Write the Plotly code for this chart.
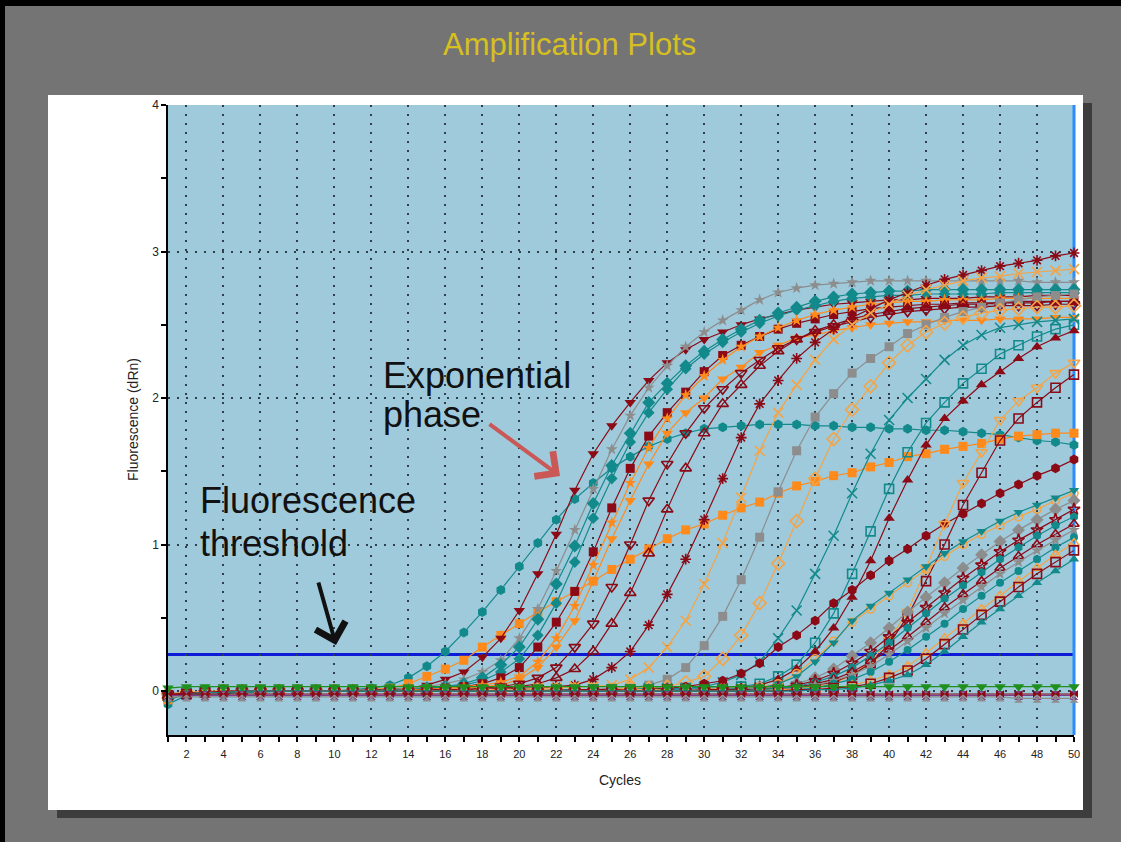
import plotly.graph_objects as go

# ---------------------------------------------------------------
# Amplification plot data: fluorescence (dRn) per cycle, 50 cycles
# ---------------------------------------------------------------
cycles = list(range(1, 51))
threshold = 0.25
x_ticks = list(range(2, 51, 2))
y_ticks = [0, 1, 2, 3, 4]

teal_hex_a = [
    -0.09, -0.03, -0.02, -0.02, -0.01, -0.01, 0.00, 0.00, 0.00, 0.00,
    0.01, 0.02, 0.04, 0.09, 0.17, 0.27, 0.40, 0.54, 0.69, 0.85,
    1.01, 1.17, 1.31, 1.42, 1.52, 1.60, 1.67, 1.72, 1.76, 1.79,
    1.80, 1.81, 1.82, 1.82, 1.82, 1.81, 1.81, 1.80, 1.80, 1.79,
    1.79, 1.78, 1.78, 1.77, 1.76, 1.75, 1.73, 1.71, 1.70, 1.68,
]
orange_sq_a = [
    -0.06, -0.02, -0.01, -0.01, 0.00, 0.00, 0.00, 0.00, 0.00, 0.00,
    0.00, 0.01, 0.02, 0.05, 0.10, 0.15, 0.21, 0.30, 0.38, 0.46,
    0.54, 0.61, 0.68, 0.75, 0.83, 0.90, 0.97, 1.04, 1.10, 1.14,
    1.20, 1.25, 1.29, 1.35, 1.40, 1.43, 1.47, 1.49, 1.53, 1.56,
    1.60, 1.62, 1.65, 1.67, 1.69, 1.72, 1.74, 1.75, 1.76, 1.76,
]
dkred_tri_dn = [
    -0.04, -0.02, -0.01, -0.01, 0.00, 0.00, 0.00, 0.00, 0.00, 0.00,
    0.00, 0.01, 0.01, 0.02, 0.04, 0.08, 0.13, 0.23, 0.36, 0.55,
    0.80, 1.07, 1.37, 1.62, 1.81, 1.97, 2.12, 2.24, 2.33, 2.40,
    2.45, 2.50, 2.54, 2.57, 2.60, 2.62, 2.64, 2.65, 2.66, 2.67,
    2.67, 2.68, 2.68, 2.68, 2.69, 2.69, 2.69, 2.70, 2.70, 2.70,
]
gray_star_a = [
    -0.03, -0.02, -0.01, 0.00, 0.00, 0.00, 0.00, 0.00, 0.00, 0.00,
    0.00, 0.00, 0.01, 0.02, 0.03, 0.05, 0.08, 0.13, 0.21, 0.36,
    0.56, 0.82, 1.10, 1.38, 1.65, 1.88, 2.07, 2.22, 2.35, 2.45,
    2.53, 2.60, 2.67, 2.72, 2.75, 2.77, 2.78, 2.79, 2.80, 2.80,
    2.80, 2.80, 2.80, 2.80, 2.80, 2.80, 2.80, 2.79, 2.79, 2.79,
]
teal_dia_a = [
    -0.05, -0.02, -0.01, -0.01, 0.00, 0.00, 0.00, 0.00, 0.00, 0.00,
    0.00, 0.00, 0.01, 0.01, 0.02, 0.03, 0.05, 0.09, 0.18, 0.30,
    0.49, 0.73, 0.99, 1.28, 1.54, 1.76, 1.97, 2.10, 2.22, 2.32,
    2.40, 2.47, 2.53, 2.58, 2.62, 2.66, 2.69, 2.71, 2.72, 2.73,
    2.73, 2.74, 2.74, 2.74, 2.74, 2.74, 2.74, 2.74, 2.74, 2.74,
]
teal_dia_b = [
    -0.04, -0.02, -0.01, 0.00, 0.00, 0.00, 0.00, 0.00, 0.00, 0.00,
    0.00, 0.00, 0.00, 0.01, 0.02, 0.03, 0.04, 0.07, 0.13, 0.22,
    0.38, 0.60, 0.88, 1.18, 1.45, 1.70, 1.90, 2.06, 2.20, 2.30,
    2.38, 2.45, 2.51, 2.56, 2.60, 2.63, 2.66, 2.68, 2.69, 2.70,
    2.70, 2.71, 2.71, 2.71, 2.71, 2.72, 2.72, 2.72, 2.72, 2.72,
]
dkred_sq_a = [
    -0.03, -0.02, -0.01, -0.01, 0.00, 0.00, 0.00, 0.00, 0.00, 0.00,
    0.00, 0.00, 0.00, 0.01, 0.01, 0.02, 0.03, 0.05, 0.09, 0.16,
    0.30, 0.47, 0.68, 0.95, 1.25, 1.52, 1.74, 1.90, 2.04, 2.18,
    2.29, 2.36, 2.42, 2.47, 2.51, 2.54, 2.57, 2.59, 2.61, 2.62,
    2.63, 2.64, 2.64, 2.65, 2.65, 2.65, 2.66, 2.66, 2.66, 2.66,
]
orange_tri_dn = [
    -0.05, -0.02, -0.01, 0.00, 0.00, 0.00, 0.00, 0.00, 0.00, 0.00,
    0.00, 0.00, 0.00, 0.00, 0.01, 0.01, 0.02, 0.03, 0.04, 0.08,
    0.16, 0.30, 0.48, 0.75, 1.04, 1.30, 1.55, 1.76, 1.90, 2.00,
    2.13, 2.21, 2.31, 2.36, 2.41, 2.43, 2.46, 2.48, 2.50, 2.51,
    2.52, 2.52, 2.53, 2.53, 2.53, 2.54, 2.54, 2.54, 2.55, 2.55,
]
orange_star = [
    -0.04, -0.02, -0.01, 0.00, 0.00, 0.00, 0.00, 0.00, 0.00, 0.00,
    0.00, 0.00, 0.00, 0.01, 0.01, 0.02, 0.03, 0.04, 0.06, 0.10,
    0.20, 0.36, 0.58, 0.86, 1.15, 1.42, 1.66, 1.86, 2.02, 2.15,
    2.26, 2.35, 2.42, 2.48, 2.53, 2.57, 2.60, 2.62, 2.64, 2.65,
    2.66, 2.66, 2.67, 2.67, 2.67, 2.68, 2.68, 2.68, 2.68, 2.68,
]
dkred_tri_dn_open = [
    -0.03, -0.02, -0.01, 0.00, 0.00, 0.00, 0.00, 0.00, 0.00, 0.00,
    0.00, 0.00, 0.00, 0.00, 0.01, 0.01, 0.01, 0.02, 0.03, 0.05,
    0.09, 0.16, 0.30, 0.46, 0.71, 1.00, 1.30, 1.55, 1.76, 1.93,
    2.06, 2.17, 2.26, 2.34, 2.40, 2.45, 2.49, 2.52, 2.55, 2.57,
    2.59, 2.60, 2.61, 2.62, 2.62, 2.63, 2.63, 2.63, 2.64, 2.64,
]
dkred_tri_up_open = [
    -0.03, -0.02, -0.01, 0.00, 0.00, 0.00, 0.00, 0.00, 0.00, 0.00,
    0.00, 0.00, 0.00, 0.00, 0.00, 0.01, 0.01, 0.01, 0.02, 0.03,
    0.05, 0.09, 0.15, 0.27, 0.46, 0.67, 0.94, 1.24, 1.52, 1.76,
    1.96, 2.09, 2.22, 2.32, 2.40, 2.46, 2.50, 2.54, 2.57, 2.59,
    2.61, 2.62, 2.63, 2.64, 2.64, 2.65, 2.65, 2.65, 2.66, 2.66,
]
dkred_asterisk = [
    -0.02, -0.01, -0.01, 0.00, 0.00, 0.00, 0.00, 0.00, 0.00, 0.00,
    0.00, 0.00, 0.00, 0.00, 0.00, 0.00, 0.01, 0.01, 0.01, 0.02,
    0.02, 0.03, 0.04, 0.08, 0.16, 0.27, 0.45, 0.66, 0.90, 1.17,
    1.45, 1.73, 1.96, 2.12, 2.27, 2.38, 2.47, 2.55, 2.61, 2.67,
    2.72, 2.77, 2.81, 2.84, 2.87, 2.90, 2.92, 2.94, 2.97, 2.99,
]
orange_x = [
    -0.03, -0.01, -0.01, 0.00, 0.00, 0.00, 0.00, 0.00, 0.00, 0.00,
    0.00, 0.00, 0.00, 0.00, 0.00, 0.00, 0.00, 0.01, 0.01, 0.01,
    0.02, 0.02, 0.03, 0.03, 0.04, 0.08, 0.16, 0.30, 0.48, 0.73,
    1.01, 1.32, 1.64, 1.90, 2.09, 2.26, 2.40, 2.50, 2.58, 2.64,
    2.70, 2.74, 2.77, 2.80, 2.82, 2.83, 2.85, 2.86, 2.87, 2.88,
]
gray_sq = [
    -0.04, -0.02, -0.01, -0.01, 0.00, 0.00, 0.00, 0.00, 0.00, 0.00,
    0.00, 0.00, 0.00, 0.00, 0.00, 0.00, 0.00, 0.00, 0.00, 0.01,
    0.01, 0.01, 0.01, 0.01, 0.02, 0.02, 0.04, 0.08, 0.16, 0.31,
    0.51, 0.76, 1.05, 1.36, 1.64, 1.87, 2.03, 2.17, 2.27, 2.35,
    2.44, 2.50, 2.55, 2.59, 2.62, 2.65, 2.67, 2.69, 2.70, 2.71,
]
orange_dia_open = [
    -0.02, -0.01, -0.01, 0.00, 0.00, 0.00, 0.00, 0.00, 0.00, 0.00,
    0.00, 0.00, 0.00, 0.00, 0.00, 0.00, 0.00, 0.00, 0.00, 0.00,
    0.01, 0.01, 0.01, 0.01, 0.01, 0.02, 0.02, 0.03, 0.06, 0.10,
    0.22, 0.38, 0.60, 0.87, 1.16, 1.45, 1.72, 1.92, 2.08, 2.24,
    2.36, 2.45, 2.51, 2.55, 2.58, 2.60, 2.61, 2.62, 2.62, 2.63,
]
teal_x = [
    -0.03, -0.02, -0.01, 0.00, 0.00, 0.00, 0.00, 0.00, 0.00, 0.00,
    0.00, 0.00, 0.00, 0.00, 0.00, 0.00, 0.00, 0.00, 0.00, 0.00,
    0.00, 0.01, 0.01, 0.01, 0.01, 0.01, 0.02, 0.02, 0.02, 0.03,
    0.06, 0.11, 0.20, 0.36, 0.55, 0.80, 1.06, 1.35, 1.62, 1.85,
    2.00, 2.13, 2.26, 2.36, 2.43, 2.48, 2.50, 2.52, 2.53, 2.54,
]
teal_sq_open = [
    -0.03, -0.01, -0.01, 0.00, 0.00, 0.00, 0.00, 0.00, 0.00, 0.00,
    0.00, 0.00, 0.00, 0.00, 0.00, 0.00, 0.00, 0.00, 0.00, 0.00,
    0.00, 0.00, 0.00, 0.01, 0.01, 0.01, 0.01, 0.01, 0.02, 0.02,
    0.02, 0.03, 0.05, 0.10, 0.18, 0.33, 0.53, 0.80, 1.09, 1.38,
    1.63, 1.83, 1.97, 2.10, 2.20, 2.30, 2.36, 2.42, 2.47, 2.50,
]
dkred_tri_up = [
    -0.03, -0.02, -0.01, -0.01, 0.00, 0.00, 0.00, 0.00, 0.00, 0.00,
    0.00, 0.00, 0.00, 0.00, 0.00, 0.00, 0.00, 0.00, 0.00, 0.00,
    0.00, 0.00, 0.00, 0.00, 0.01, 0.01, 0.01, 0.01, 0.01, 0.01,
    0.01, 0.02, 0.04, 0.08, 0.15, 0.27, 0.43, 0.64, 0.89, 1.18,
    1.44, 1.68, 1.86, 1.98, 2.09, 2.18, 2.27, 2.35, 2.41, 2.46,
]
dkred_hex = [
    -0.03, -0.02, -0.01, 0.00, 0.00, 0.00, 0.00, 0.00, 0.00, 0.00,
    0.00, 0.00, 0.00, 0.00, 0.00, 0.00, 0.00, 0.00, 0.00, 0.00,
    0.00, 0.00, 0.01, 0.01, 0.01, 0.01, 0.01, 0.02, 0.03, 0.05,
    0.07, 0.12, 0.19, 0.30, 0.38, 0.48, 0.60, 0.69, 0.79, 0.89,
    0.97, 1.06, 1.14, 1.21, 1.28, 1.35, 1.41, 1.47, 1.52, 1.58,
]
orange_tri_dn_open = [
    -0.03, -0.01, -0.01, 0.00, 0.00, 0.00, 0.00, 0.00, 0.00, 0.00,
    0.00, 0.00, 0.00, 0.00, 0.00, 0.00, 0.00, 0.00, 0.00, 0.00,
    0.00, 0.00, 0.00, 0.00, 0.00, 0.00, 0.01, 0.01, 0.01, 0.01,
    0.01, 0.01, 0.01, 0.01, 0.02, 0.03, 0.05, 0.11, 0.20, 0.35,
    0.54, 0.84, 1.14, 1.42, 1.63, 1.85, 1.98, 2.07, 2.17, 2.24,
]
dkred_sq_open = [
    -0.03, -0.02, -0.01, 0.00, 0.00, 0.00, 0.00, 0.00, 0.00, 0.00,
    0.00, 0.00, 0.00, 0.00, 0.00, 0.00, 0.00, 0.00, 0.00, 0.00,
    0.00, 0.00, 0.00, 0.00, 0.00, 0.00, 0.00, 0.01, 0.01, 0.01,
    0.01, 0.01, 0.02, 0.02, 0.03, 0.04, 0.06, 0.11, 0.19, 0.32,
    0.51, 0.75, 1.00, 1.27, 1.49, 1.71, 1.86, 1.97, 2.07, 2.16,
]
orange_circle_open = [
    -0.02, -0.01, 0.00, 0.00, 0.00, 0.00, 0.00, 0.00, 0.00, 0.00,
    0.00, 0.00, 0.00, 0.00, 0.00, 0.00, 0.00, 0.00, 0.00, 0.00,
    0.00, 0.00, 0.00, 0.00, 0.00, 0.01, 0.01, 0.01, 0.01, 0.01,
    0.02, 0.02, 0.03, 0.05, 0.12, 0.22, 0.34, 0.47, 0.56, 0.65,
    0.74, 0.83, 0.92, 1.00, 1.07, 1.13, 1.19, 1.24, 1.30, 1.35,
]
teal_tri_dn = [
    -0.04, -0.02, -0.01, 0.00, 0.00, 0.00, 0.00, 0.00, 0.00, 0.00,
    0.00, 0.00, 0.00, 0.00, 0.00, 0.00, 0.00, 0.00, 0.00, 0.00,
    0.00, 0.00, 0.00, 0.00, 0.00, 0.00, 0.00, 0.01, 0.01, 0.01,
    0.01, 0.02, 0.02, 0.05, 0.10, 0.20, 0.33, 0.48, 0.58, 0.67,
    0.76, 0.85, 0.94, 1.02, 1.09, 1.16, 1.22, 1.27, 1.32, 1.37,
]
gray_dia = [
    -0.03, -0.02, -0.01, 0.00, 0.00, 0.00, 0.00, 0.00, 0.00, 0.00,
    0.00, 0.00, 0.00, 0.00, 0.00, 0.00, 0.00, 0.00, 0.00, 0.00,
    0.00, 0.00, 0.00, 0.00, 0.00, 0.00, 0.00, 0.00, 0.01, 0.01,
    0.01, 0.01, 0.02, 0.02, 0.05, 0.09, 0.15, 0.24, 0.33, 0.43,
    0.54, 0.64, 0.74, 0.84, 0.93, 1.02, 1.10, 1.17, 1.24, 1.30,
]
dkred_star_open = [
    -0.02, -0.02, -0.01, 0.00, 0.00, 0.00, 0.00, 0.00, 0.00, 0.00,
    0.00, 0.00, 0.00, 0.00, 0.00, 0.00, 0.00, 0.00, 0.00, 0.00,
    0.00, 0.00, 0.00, 0.00, 0.00, 0.00, 0.00, 0.00, 0.00, 0.01,
    0.01, 0.01, 0.01, 0.02, 0.04, 0.07, 0.12, 0.19, 0.27, 0.37,
    0.47, 0.57, 0.67, 0.77, 0.86, 0.95, 1.03, 1.10, 1.17, 1.24,
]
teal_hex_b = [
    -0.05, -0.02, -0.01, -0.01, 0.00, 0.00, 0.00, 0.00, 0.00, 0.00,
    0.00, 0.00, 0.00, 0.00, 0.00, 0.00, 0.00, 0.00, 0.00, 0.00,
    0.00, 0.00, 0.00, 0.00, 0.00, 0.00, 0.00, 0.00, 0.00, 0.00,
    0.00, 0.01, 0.01, 0.02, 0.03, 0.06, 0.10, 0.16, 0.24, 0.33,
    0.43, 0.53, 0.63, 0.72, 0.81, 0.90, 0.98, 1.06, 1.13, 1.19,
]
dkred_tri_up_open_b = [
    -0.03, -0.01, -0.01, 0.00, 0.00, 0.00, 0.00, 0.00, 0.00, 0.00,
    0.00, 0.00, 0.00, 0.00, 0.00, 0.00, 0.00, 0.00, 0.00, 0.00,
    0.00, 0.00, 0.00, 0.00, 0.00, 0.00, 0.00, 0.00, 0.00, 0.00,
    0.00, 0.01, 0.01, 0.01, 0.02, 0.05, 0.08, 0.13, 0.20, 0.28,
    0.37, 0.47, 0.57, 0.66, 0.75, 0.84, 0.92, 1.00, 1.07, 1.14,
]
gray_star_b = [
    -0.04, -0.02, -0.01, 0.00, 0.00, 0.00, 0.00, 0.00, 0.00, 0.00,
    0.00, 0.00, 0.00, 0.00, 0.00, 0.00, 0.00, 0.00, 0.00, 0.00,
    0.00, 0.00, 0.00, 0.00, 0.00, 0.00, 0.00, 0.00, 0.00, 0.00,
    0.00, 0.00, 0.01, 0.01, 0.02, 0.04, 0.07, 0.11, 0.17, 0.25,
    0.34, 0.43, 0.53, 0.62, 0.71, 0.80, 0.88, 0.96, 1.03, 1.10,
]
teal_circle = [
    -0.04, -0.02, -0.01, 0.00, 0.00, 0.00, 0.00, 0.00, 0.00, 0.00,
    0.00, 0.00, 0.00, 0.00, 0.00, 0.00, 0.00, 0.00, 0.00, 0.00,
    0.00, 0.00, 0.00, 0.00, 0.00, 0.00, 0.00, 0.00, 0.00, 0.00,
    0.00, 0.00, 0.01, 0.01, 0.01, 0.02, 0.05, 0.08, 0.13, 0.20,
    0.28, 0.37, 0.46, 0.56, 0.65, 0.74, 0.82, 0.90, 0.98, 1.05,
]
orange_tri_up_open = [
    -0.05, -0.02, -0.01, 0.00, 0.00, 0.00, 0.00, 0.00, 0.00, 0.00,
    0.00, 0.00, 0.00, 0.00, 0.00, 0.00, 0.00, 0.00, 0.00, 0.00,
    0.00, 0.00, 0.00, 0.00, 0.00, 0.00, 0.00, 0.00, 0.00, 0.00,
    0.00, 0.00, 0.00, 0.01, 0.01, 0.01, 0.02, 0.04, 0.07, 0.11,
    0.17, 0.26, 0.36, 0.46, 0.56, 0.65, 0.75, 0.84, 0.93, 1.01,
]
dkred_sq_open_b = [
    -0.03, -0.02, -0.01, 0.00, 0.00, 0.00, 0.00, 0.00, 0.00, 0.00,
    0.00, 0.00, 0.00, 0.00, 0.00, 0.00, 0.00, 0.00, 0.00, 0.00,
    0.00, 0.00, 0.00, 0.00, 0.00, 0.00, 0.00, 0.00, 0.00, 0.00,
    0.00, 0.00, 0.00, 0.00, 0.01, 0.01, 0.02, 0.03, 0.05, 0.09,
    0.14, 0.22, 0.32, 0.42, 0.52, 0.61, 0.71, 0.80, 0.88, 0.96,
]
teal_tri_up = [
    -0.06, -0.02, -0.01, -0.01, 0.00, 0.00, 0.00, 0.00, 0.00, 0.00,
    0.00, 0.00, 0.00, 0.00, 0.00, 0.00, 0.00, 0.00, 0.00, 0.00,
    0.00, 0.00, 0.00, 0.00, 0.00, 0.00, 0.00, 0.00, 0.00, 0.00,
    0.00, 0.00, 0.00, 0.00, 0.00, 0.01, 0.01, 0.02, 0.04, 0.07,
    0.11, 0.18, 0.27, 0.37, 0.47, 0.56, 0.65, 0.74, 0.82, 0.90,
]
# no-template controls: flat baselines
purple_ntc = [
    -0.03, -0.03, -0.03, -0.03, -0.03, -0.03, -0.03, -0.03, -0.03, -0.03,
    -0.03, -0.03, -0.03, -0.03, -0.03, -0.03, -0.03, -0.03, -0.03, -0.03,
    -0.03, -0.03, -0.03, -0.03, -0.03, -0.03, -0.03, -0.03, -0.03, -0.03,
    -0.03, -0.03, -0.03, -0.03, -0.03, -0.03, -0.03, -0.03, -0.03, -0.03,
    -0.03, -0.03, -0.03, -0.03, -0.03, -0.03, -0.03, -0.03, -0.03, -0.03,
]
gray_ntc = [
    -0.04, -0.04, -0.04, -0.04, -0.04, -0.04, -0.04, -0.04, -0.04, -0.04,
    -0.04, -0.04, -0.04, -0.04, -0.04, -0.04, -0.04, -0.04, -0.04, -0.04,
    -0.04, -0.04, -0.04, -0.04, -0.04, -0.04, -0.04, -0.04, -0.04, -0.04,
    -0.04, -0.04, -0.04, -0.04, -0.04, -0.04, -0.04, -0.04, -0.04, -0.04,
    -0.04, -0.04, -0.04, -0.04, -0.04, -0.04, -0.05, -0.05, -0.05, -0.05,
]
dkred_ntc = [
    -0.02, -0.02, -0.02, -0.02, -0.02, -0.02, -0.02, -0.02, -0.02, -0.02,
    -0.02, -0.02, -0.02, -0.02, -0.02, -0.02, -0.02, -0.02, -0.02, -0.02,
    -0.02, -0.02, -0.02, -0.02, -0.02, -0.02, -0.02, -0.02, -0.02, -0.02,
    -0.02, -0.02, -0.02, -0.02, -0.02, -0.02, -0.02, -0.02, -0.02, -0.02,
    -0.02, -0.02, -0.02, -0.02, -0.02, -0.02, -0.02, -0.02, -0.02, -0.02,
]
green_ntc = [
    0.02, 0.03, 0.03, 0.03, 0.03, 0.03, 0.03, 0.03, 0.03, 0.03,
    0.03, 0.03, 0.03, 0.03, 0.03, 0.03, 0.03, 0.03, 0.03, 0.03,
    0.03, 0.03, 0.03, 0.03, 0.03, 0.03, 0.03, 0.03, 0.03, 0.03,
    0.03, 0.03, 0.03, 0.03, 0.03, 0.03, 0.03, 0.03, 0.03, 0.03,
    0.03, 0.03, 0.03, 0.03, 0.03, 0.03, 0.03, 0.03, 0.03, 0.03,
]

# ---------------------------------------------------------------
# Styling
# ---------------------------------------------------------------
TEAL = "#128a8c"
DKRED = "#8b0a16"
ORANGE = "#ff8a1c"
LTORANGE = "#f4a446"
GRAY = "#8d8d8d"
GREEN = "#1f8f1f"
PURPLE = "#7d3c8c"
FONT = "Liberation Sans, Arial, sans-serif"

series = [
    (teal_hex_a, "hexagon", TEAL, 10),
    (orange_sq_a, "square", ORANGE, 9),
    (dkred_tri_dn, "triangle-down", DKRED, 10),
    (gray_star_a, "star", GRAY, 9),
    (teal_dia_a, "diamond", TEAL, 10),
    (teal_dia_b, "diamond", TEAL, 9),
    (dkred_sq_a, "square", DKRED, 9),
    (orange_tri_dn, "triangle-down", ORANGE, 10),
    (orange_star, "star", ORANGE, 9),
    (dkred_tri_dn_open, "triangle-down-open", DKRED, 10),
    (dkred_tri_up_open, "triangle-up-open", DKRED, 10),
    (dkred_asterisk, "asterisk-open", DKRED, 9),
    (orange_x, "x-thin-open", LTORANGE, 10),
    (gray_sq, "square", GRAY, 9),
    (orange_dia_open, "diamond-open", LTORANGE, 10),
    (teal_x, "x-thin-open", TEAL, 10),
    (teal_sq_open, "square-open", TEAL, 9),
    (dkred_tri_up, "triangle-up", DKRED, 10),
    (dkred_hex, "hexagon", DKRED, 10),
    (orange_tri_dn_open, "triangle-down-open", LTORANGE, 10),
    (dkred_sq_open, "square-open", DKRED, 9),
    (orange_circle_open, "circle-open", LTORANGE, 8),
    (teal_tri_dn, "triangle-down", TEAL, 9),
    (gray_dia, "diamond", GRAY, 10),
    (dkred_star_open, "star-open", DKRED, 9),
    (teal_hex_b, "hexagon", TEAL, 9),
    (dkred_tri_up_open_b, "triangle-up-open", DKRED, 9),
    (gray_star_b, "star", GRAY, 9),
    (teal_circle, "circle", TEAL, 8),
    (orange_tri_up_open, "triangle-up-open", LTORANGE, 9),
    (dkred_sq_open_b, "square-open", DKRED, 9),
    (teal_tri_up, "triangle-up", TEAL, 9),
    (purple_ntc, "hourglass", PURPLE, 9),
    (gray_ntc, "hourglass", GRAY, 9),
    (dkred_ntc, "bowtie", DKRED, 8),
    (green_ntc, "triangle-down", GREEN, 10),
]

fig = go.Figure()
for vals, sym, col, size in series:
    assert len(vals) == len(cycles)
    open_sym = sym.endswith("-open")
    fig.add_trace(go.Scatter(
        x=cycles, y=vals, mode="lines+markers",
        line=dict(color=col, width=1.2),
        marker=dict(symbol=sym, size=size, color=col,
                    line=dict(color=col, width=1.6 if open_sym else 0)),
        cliponaxis=False, showlegend=False, hoverinfo="skip",
    ))

# plot-area geometry in page pixels
L, R, T, B = 168, 1074, 105, 735


def px(x):
    return (x - L) / (R - L)


def py(y):
    return (B - y) / (B - T)


shapes = [
    # panel shadow, white panel, plot background
    dict(type="rect", xref="paper", yref="paper", x0=px(57), x1=px(1092), y0=py(818), y1=py(103),
         fillcolor="#3d3d3d", line=dict(width=0), layer="below"),
    dict(type="rect", xref="paper", yref="paper", x0=px(48), x1=px(1083), y0=py(810), y1=py(95),
         fillcolor="white", line=dict(width=0), layer="below"),
    dict(type="rect", xref="paper", yref="paper", x0=0, x1=1, y0=0, y1=1,
         fillcolor="#9fcadb", line=dict(width=0), layer="below"),
    # page frame edges
    dict(type="rect", xref="paper", yref="paper", x0=px(0), x1=px(1121), y0=py(6), y1=py(0),
         fillcolor="black", line=dict(width=0), layer="below"),
    dict(type="rect", xref="paper", yref="paper", x0=px(0), x1=px(5), y0=py(842), y1=py(0),
         fillcolor="black", line=dict(width=0), layer="below"),
    # threshold line
    dict(type="line", xref="paper", yref="y", x0=0, x1=1, y0=threshold, y1=threshold,
         line=dict(color="#0d1bd6", width=3), layer="between"),
    # end-of-run marker line
    dict(type="line", xref="paper", yref="paper", x0=1, x1=1, y0=0, y1=1,
         line=dict(color="#2a8cff", width=3), layer="between"),
]

annotations = [
    dict(text="Amplification Plots", x=px(569), y=py(45), xref="paper", yref="paper",
         showarrow=False, xanchor="center", yanchor="middle",
         font=dict(family=FONT, size=31, color="#d6c020")),
    dict(text="Fluorescence (dRn)", x=px(133), y=py(420), xref="paper", yref="paper",
         showarrow=False, textangle=-90, xanchor="center", yanchor="middle",
         font=dict(family=FONT, size=14, color="#222222")),
    dict(text="Cycles", x=px(620), y=py(780), xref="paper", yref="paper",
         showarrow=False, xanchor="center", yanchor="middle",
         font=dict(family=FONT, size=14, color="#222222")),
    dict(text="Exponential", x=px(381), y=py(375), xref="paper", yref="paper",
         showarrow=False, xanchor="left", yanchor="middle",
         font=dict(family=FONT, size=36, color="#111111")),
    dict(text="phase", x=px(381), y=py(414), xref="paper", yref="paper",
         showarrow=False, xanchor="left", yanchor="middle",
         font=dict(family=FONT, size=36, color="#111111")),
    dict(text="Fluorescence", x=px(198), y=py(500), xref="paper", yref="paper",
         showarrow=False, xanchor="left", yanchor="middle",
         font=dict(family=FONT, size=36, color="#111111")),
    dict(text="threshold", x=px(198), y=py(543), xref="paper", yref="paper",
         showarrow=False, xanchor="left", yanchor="middle",
         font=dict(family=FONT, size=36, color="#111111")),
    # arrows
    dict(text="", x=px(336), y=py(645), xref="paper", yref="paper",
         showarrow=True, ax=318 - 336, ay=581 - 645, arrowhead=4, arrowsize=1.5,
         arrowwidth=4, arrowcolor="#111111"),
    dict(text="", x=px(560), y=py(476), xref="paper", yref="paper",
         showarrow=True, ax=488 - 560, ay=423 - 476, arrowhead=4, arrowsize=1.5,
         arrowwidth=4, arrowcolor="#c95856"),
]

grid = dict(showgrid=True, gridcolor="#2f3f4a", gridwidth=2, griddash="2px,7px")

fig.update_layout(
    width=1121, height=842, autosize=False,
    margin=dict(l=L, r=1121 - R, t=T, b=842 - B, pad=0),
    paper_bgcolor="#747474", plot_bgcolor="rgba(0,0,0,0)",
    shapes=shapes, annotations=annotations,
    font=dict(family=FONT, color="#222222"),
    xaxis=dict(
        range=[1, 50], tickmode="array", tickvals=x_ticks,
        ticks="outside", ticklen=5, tickwidth=1.5, tickcolor="black",
        ticklabelstandoff=3,
        minor=dict(tickmode="linear", tick0=1, dtick=1, ticks="outside", ticklen=5,
                   tickwidth=1.5, tickcolor="black", showgrid=False),
        showline=True, linecolor="black", linewidth=2, zeroline=False,
        tickfont=dict(family=FONT, size=11, color="#222222"), **grid,
    ),
    yaxis=dict(
        range=[-0.3, 4], tickmode="array", tickvals=y_ticks,
        ticks="outside", ticklen=5, tickwidth=1.5, tickcolor="black",
        minor=dict(tickmode="linear", tick0=0, dtick=0.5, ticks="outside", ticklen=5,
                   tickwidth=1.5, tickcolor="black", showgrid=False),
        showline=True, linecolor="black", linewidth=1.5, zeroline=False,
        tickfont=dict(family=FONT, size=12, color="#222222"), **grid,
    ),
)

fig.write_html("out.html")
